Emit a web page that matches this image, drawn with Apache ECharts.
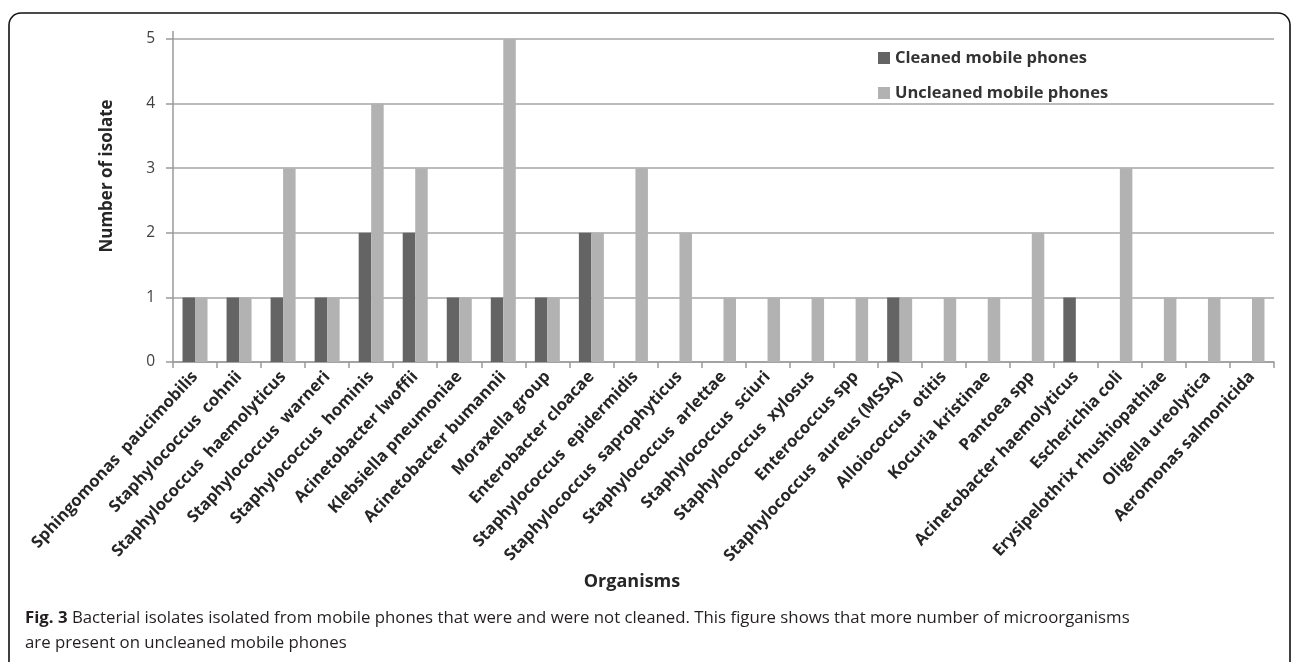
<!DOCTYPE html>
<html>
<head>
<meta charset="utf-8">
<script src="https://cdn.jsdelivr.net/npm/echarts@6/dist/echarts.min.js"></script>
<style>
  html, body { margin: 0; padding: 0; background: #fff; }
  #chart { width: 1292px; height: 662px; }
</style>
</head>
<body>
<div id="chart"></div>
<script>
// organisms, in the order of the x axis
const organisms = [
  'Sphingomonas  paucimobilis', 'Staphylococcus  cohnii', 'Staphylococcus  haemolyticus',
  'Staphylococcus  warneri', 'Staphylococcus  hominis', 'Acinetobacter lwoffii',
  'Klebsiella pneumoniae', 'Acinetobacter bumannii', 'Moraxella group',
  'Enterobacter cloacae', 'Staphylococcus  epidermidis', 'Staphylococcus  saprophyticus',
  'Staphylococcus  arlettae', 'Staphylococcus  sciuri', 'Staphylococcus  xylosus',
  'Enterococcus spp', 'Staphylococcus  aureus (MSSA)', 'Alloiococcus  otitis',
  'Kocuria kristinae', 'Pantoea spp', 'Acinetobacter haemolyticus', 'Escherichia coli',
  'Erysipelothrix rhushiopathiae', 'Oligella ureolytica', 'Aeromonas salmonicida'
];
const cleaned   = [1, 1, 1, 1, 2, 2, 1, 1, 1, 2, 0, 0, 0, 0, 0, 0, 1, 0, 0, 0, 1, 0, 0, 0, 0];
const uncleaned = [1, 1, 3, 1, 4, 3, 1, 5, 1, 2, 3, 2, 1, 1, 1, 1, 1, 1, 1, 2, 0, 3, 1, 1, 1];
const yTicks = [0, 1, 2, 3, 4, 5];

const chart = echarts.init(document.getElementById('chart'));
const label = { fontFamily: 'Open Sans', fontWeight: 'bold', color: '#262626' };

chart.setOption({
  animation: false,
  grid: { left: 173, right: 18, top: 39, bottom: 300 },
  legend: {
    orient: 'vertical', left: 873, top: 43, itemGap: 15,
    itemWidth: 12, itemHeight: 12, icon: 'rect',
    textStyle: { ...label, fontSize: 16.5, lineHeight: 20, color: '#333' },
    data: ['Cleaned mobile phones', 'Uncleaned mobile phones']
  },
  xAxis: {
    type: 'category', data: organisms,
    axisLine: { lineStyle: { color: '#9a9a9a', width: 1.5 } },
    axisTick: { show: true, interval: 0, length: 6, lineStyle: { color: '#9a9a9a', width: 1.5 } },
    axisLabel: { ...label, interval: 0, rotate: 47, fontSize: 16.5, margin: 12 }
  },
  yAxis: {
    type: 'value', min: yTicks[0], max: yTicks[yTicks.length - 1], interval: 1,
    axisLine: { show: true, lineStyle: { color: '#9a9a9a', width: 1.5 } },
    axisTick: { show: true, length: 7, lineStyle: { color: '#9a9a9a', width: 1.5 } },
    axisLabel: { fontFamily: 'Open Sans', fontSize: 15.5, color: '#404040', margin: 18 },
    splitLine: { lineStyle: { color: '#a6a6a6', width: 1.5 } }
  },
  series: [
    { name: 'Cleaned mobile phones', type: 'bar', data: cleaned, barWidth: 12.5, barGap: '0%',
      itemStyle: { color: '#646464' } },
    { name: 'Uncleaned mobile phones', type: 'bar', data: uncleaned, barWidth: 12.5, barGap: '0%',
      itemStyle: { color: '#b2b2b2' } }
  ],
  graphic: [
    { type: 'rect', z: -10, silent: true,
      shape: { x: 9, y: 13, width: 1281, height: 720, r: 12 },
      style: { fill: 'none', stroke: '#111', lineWidth: 1.6 } },
    // small stub of the value axis above the top gridline
    { type: 'line', silent: true,
      shape: { x1: 173, y1: 31, x2: 173, y2: 39 },
      style: { stroke: '#9a9a9a', lineWidth: 1.5 } },
    { type: 'text', x: 107, y: 176, rotation: Math.PI / 2,
      style: { text: 'Number of isolate', ...label, fontSize: 17, fill: '#262626',
        align: 'center', verticalAlign: 'middle' } },
    { type: 'text', x: 632, y: 582,
      style: { text: 'Organisms', ...label, fontSize: 18, fill: '#262626',
        align: 'center', verticalAlign: 'middle' } },
    { type: 'text', x: 25, y: 618,
      style: {
        text: '{b|Fig. 3} Bacterial isolates isolated from mobile phones that were and were not cleaned. This figure shows that more number of microorganisms',
        fontFamily: 'Open Sans', fontSize: 16.8, fill: '#231f20', verticalAlign: 'middle',
        rich: { b: { fontFamily: 'Open Sans', fontWeight: 'bold', fontSize: 16.8, fill: '#231f20' } }
      } },
    { type: 'text', x: 25, y: 643,
      style: { text: 'are present on uncleaned mobile phones', fontFamily: 'Open Sans', fontSize: 16.8,
        fill: '#231f20', verticalAlign: 'middle' } }
  ]
});
</script>
</body>
</html>
